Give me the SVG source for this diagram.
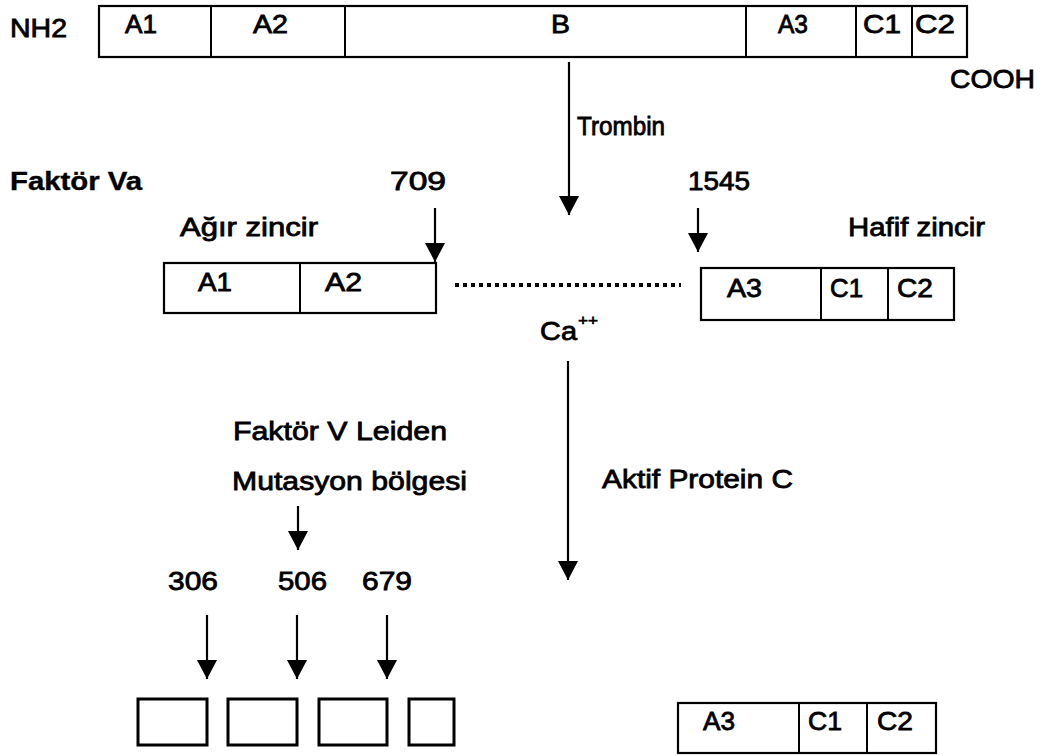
<svg xmlns="http://www.w3.org/2000/svg" width="1052" height="756" viewBox="0 0 1052 756">
<defs>
<marker id="ah" markerUnits="userSpaceOnUse" markerWidth="21" markerHeight="20" refX="20" refY="10.5" orient="auto" viewBox="0 0 20 21">
<path d="M0,0 L20,10.5 L0,21 z" fill="#000"/>
</marker>
<style>
text{font-family:"Liberation Sans",Arial,sans-serif;font-size:26px;fill:#000;stroke:#000;stroke-width:0.8}
.b{font-weight:bold;stroke-width:0.4}
.box{fill:#fff;stroke:#000;stroke-width:2.2}
.div{stroke:#000;stroke-width:2}
.arr{stroke:#000;stroke-width:2.2;fill:none;marker-end:url(#ah)}
.dots{stroke:#000;stroke-width:4;stroke-dasharray:4 4}
.sup{font-size:15px;stroke-width:0.6}
.sb{fill:#fff;stroke:#000;stroke-width:3}
</style>
</defs>
<rect width="1052" height="756" fill="#fff"/>

<g id="factorV">
<rect class="box" x="99" y="6" width="868" height="51"/>
<line class="div" x1="211" y1="6" x2="211" y2="57"/>
<line class="div" x1="345" y1="6" x2="345" y2="57"/>
<line class="div" x1="746" y1="6" x2="746" y2="57"/>
<line class="div" x1="856" y1="6" x2="856" y2="57"/>
<line class="div" x1="912" y1="6" x2="912" y2="57"/>
<text x="125" y="33" textLength="32" lengthAdjust="spacingAndGlyphs">A1</text>
<text x="253" y="33" textLength="35" lengthAdjust="spacingAndGlyphs">A2</text>
<text x="551" y="33" textLength="19" lengthAdjust="spacingAndGlyphs">B</text>
<text x="778" y="33" textLength="30" lengthAdjust="spacingAndGlyphs">A3</text>
<text x="863" y="33" textLength="38" lengthAdjust="spacingAndGlyphs">C1</text>
<text x="915" y="33" textLength="40" lengthAdjust="spacingAndGlyphs">C2</text>
</g>
<g id="nh2"><text x="10" y="37" textLength="57" lengthAdjust="spacingAndGlyphs">NH2</text></g>
<g id="cooh"><text x="950" y="88" textLength="85" lengthAdjust="spacingAndGlyphs">COOH</text></g>

<g id="labels">
<text x="577" y="135" textLength="88" lengthAdjust="spacingAndGlyphs">Trombin</text>
<text class="b" x="10" y="190" textLength="132" lengthAdjust="spacingAndGlyphs">Faktör Va</text>
<text x="390" y="190" textLength="56" lengthAdjust="spacingAndGlyphs">709</text>
<text x="688" y="190" textLength="62" lengthAdjust="spacingAndGlyphs">1545</text>
<text x="180" y="236" textLength="138" lengthAdjust="spacingAndGlyphs">Ağır zincir</text>
<text x="848" y="236" textLength="137" lengthAdjust="spacingAndGlyphs">Hafif zincir</text>
<text x="540" y="340" textLength="37" lengthAdjust="spacingAndGlyphs">Ca</text>
<text class="sup" x="578" y="325" textLength="20" lengthAdjust="spacingAndGlyphs">++</text>
<text x="233" y="440" textLength="214" lengthAdjust="spacingAndGlyphs">Faktör V Leiden</text>
<text x="232" y="490" textLength="235" lengthAdjust="spacingAndGlyphs">Mutasyon bölgesi</text>
<text x="602" y="488" textLength="191" lengthAdjust="spacingAndGlyphs">Aktif Protein C</text>
<text x="168" y="590" textLength="50" lengthAdjust="spacingAndGlyphs">306</text>
<text x="278" y="590" textLength="49" lengthAdjust="spacingAndGlyphs">506</text>
<text x="362" y="590" textLength="50" lengthAdjust="spacingAndGlyphs">679</text>
</g>

<g id="heavyChain">
<rect class="box" x="164" y="263" width="272" height="50"/>
<line class="div" x1="300" y1="263" x2="300" y2="313"/>
<text x="198" y="291" textLength="34" lengthAdjust="spacingAndGlyphs">A1</text>
<text x="325" y="291" textLength="37" lengthAdjust="spacingAndGlyphs">A2</text>
</g>

<g id="lightChain">
<rect class="box" x="701" y="268" width="253" height="52"/>
<line class="div" x1="821" y1="268" x2="821" y2="320"/>
<line class="div" x1="888" y1="268" x2="888" y2="320"/>
<text x="727" y="297" textLength="35" lengthAdjust="spacingAndGlyphs">A3</text>
<text x="830" y="297" textLength="33" lengthAdjust="spacingAndGlyphs">C1</text>
<text x="897" y="297" textLength="36" lengthAdjust="spacingAndGlyphs">C2</text>
</g>

<g id="fragments">
<rect class="sb" x="138" y="699" width="69" height="46"/>
<rect class="sb" x="228" y="699" width="69" height="46"/>
<rect class="sb" x="319" y="699" width="68" height="46"/>
<rect class="sb" x="409" y="699" width="45" height="46"/>
</g>

<g id="lightChainFinal">
<rect class="box" x="678" y="703" width="258" height="50"/>
<line class="div" x1="799" y1="703" x2="799" y2="753"/>
<line class="div" x1="867" y1="703" x2="867" y2="753"/>
<text x="703" y="730" textLength="32" lengthAdjust="spacingAndGlyphs">A3</text>
<text x="808" y="730" textLength="34" lengthAdjust="spacingAndGlyphs">C1</text>
<text x="877" y="730" textLength="36" lengthAdjust="spacingAndGlyphs">C2</text>
</g>

<g id="connectors">
<line class="arr" x1="569" y1="62" x2="569" y2="215"/>
<line class="arr" x1="435" y1="208" x2="435" y2="262"/>
<line class="arr" x1="698" y1="208" x2="698" y2="252"/>
<line class="dots" x1="455" y1="285" x2="681" y2="285"/>
<line class="arr" x1="568" y1="361" x2="568" y2="580"/>
<line class="arr" x1="298" y1="506" x2="298" y2="550"/>
<line class="arr" x1="207" y1="615" x2="207" y2="679"/>
<line class="arr" x1="297" y1="615" x2="297" y2="679"/>
<line class="arr" x1="387" y1="615" x2="387" y2="679"/>
</g>
</svg>
